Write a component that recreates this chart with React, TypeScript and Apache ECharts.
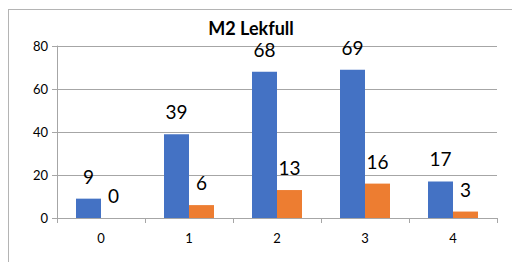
import React, { useEffect, useRef } from "react";
import * as echarts from "echarts";

const categories = ["0", "1", "2", "3", "4"];
const seriesA = [9, 39, 68, 69, 17];
const seriesB = [0, 6, 13, 16, 3];
const yTicks = [0, 20, 40, 60, 80];
const titleText = "M2 Lekfull";

export default function App() {
  const ref = useRef<HTMLDivElement>(null);
  useEffect(() => {
    if (!ref.current) return;
    const chart = echarts.init(ref.current, undefined, { renderer: "svg" });
    const font = "Lato, 'Open Sans', sans-serif";
    const label = {
      show: true,
      position: "top" as const,
      distance: 13,
      color: "#000",
      fontSize: 19,
      fontFamily: font,
    };
    chart.setOption({
      animation: false,
      backgroundColor: "#fff",
      graphic: [
        { type: "line", shape: { x1: 0.5, y1: 1, x2: 0.5, y2: 254 }, style: { stroke: "#b4b4b4", lineWidth: 1 } },
        { type: "line", shape: { x1: 0, y1: 1.5, x2: 512, y2: 1.5 }, style: { stroke: "#b4b4b4", lineWidth: 1 } },
        {
          type: "text",
          x: 243,
          y: 29,
          style: {
            text: titleText,
            fontSize: 18,
            fontWeight: "bold",
            fill: "#000",
            fontFamily: font,
            textAlign: "center",
            textVerticalAlign: "bottom",
          },
        },
      ],
      grid: { left: 49, top: 38, right: 23, bottom: 44 },
      xAxis: {
        type: "category",
        data: categories,
        axisLine: { lineStyle: { color: "#a6a6a6" } },
        axisTick: { show: true, length: 5, lineStyle: { color: "#a6a6a6" } },
        axisLabel: { color: "#000", fontSize: 13, fontFamily: font, margin: 13 },
      },
      yAxis: {
        type: "value",
        min: yTicks[0],
        max: yTicks[yTicks.length - 1],
        interval: 20,
        axisLine: { show: true, lineStyle: { color: "#a6a6a6" } },
        axisTick: { show: true, length: 5, lineStyle: { color: "#a6a6a6" } },
        splitLine: { lineStyle: { color: "#a6a6a6" } },
        axisLabel: { color: "#000", fontSize: 13, fontFamily: font, margin: 9 },
      },
      series: [
        {
          type: "bar",
          data: seriesA,
          barWidth: 25,
          barGap: "0%",
          itemStyle: { color: "#4472C4" },
          label,
        },
        {
          type: "bar",
          data: seriesB,
          barWidth: 25,
          barGap: "0%",
          itemStyle: { color: "#ED7D31" },
          label,
        },
      ],
    });
    return () => chart.dispose();
  }, []);
  return <div ref={ref} style={{ width: 512, height: 254 }} />;
}
